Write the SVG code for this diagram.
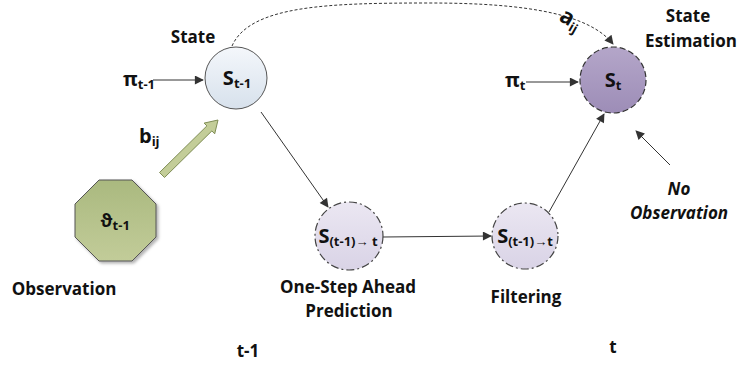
<svg xmlns="http://www.w3.org/2000/svg" width="738" height="366" viewBox="0 0 738 366">
  <style>
    text { font-family: "Open Sans", "Liberation Sans", sans-serif; font-weight: bold; fill: #111; }
    .lbl { font-size: 17px; }
    .sym { font-size: 20px; }
    .sub { font-size: 13px; }
    .conn { stroke: #333; stroke-width: 1; fill: none; }
  </style>
  <defs>
    <marker id="arr" viewBox="0 0 10 10" refX="9" refY="5" markerWidth="12" markerHeight="9" orient="auto" markerUnits="userSpaceOnUse">
      <path d="M0,0 L10,5 L0,10 z" fill="#333"/>
    </marker>
    <linearGradient id="gState" x1="0" y1="0" x2="0" y2="1">
      <stop offset="0" stop-color="#f4f7fb"/>
      <stop offset="1" stop-color="#d7e1ec"/>
    </linearGradient>
    <linearGradient id="gEst" x1="0" y1="0" x2="0" y2="1">
      <stop offset="0" stop-color="#b4a6c9"/>
      <stop offset="1" stop-color="#9d8db7"/>
    </linearGradient>
    <linearGradient id="gPred" x1="0" y1="0" x2="0" y2="1">
      <stop offset="0" stop-color="#ebe7f2"/>
      <stop offset="1" stop-color="#d9d3e6"/>
    </linearGradient>
    <linearGradient id="gObs" x1="0" y1="0" x2="0" y2="1">
      <stop offset="0" stop-color="#aab97f"/>
      <stop offset="1" stop-color="#c2cc99"/>
    </linearGradient>
    <filter id="shadow" x="-20%" y="-20%" width="150%" height="150%">
      <feDropShadow dx="2" dy="2" stdDeviation="1.5" flood-color="#000" flood-opacity="0.3"/>
    </filter>
  </defs>

  <g id="connectors">
    <path class="conn" d="M232,46 C250,5 330,3 430,3 C530,3 590,15 613,44" stroke-dasharray="3,2" marker-end="url(#arr)"/>
    <line class="conn" x1="153" y1="80" x2="203" y2="80" marker-end="url(#arr)"/>
    <line class="conn" x1="526" y1="82" x2="578" y2="82" marker-end="url(#arr)"/>
    <line class="conn" x1="261" y1="112" x2="328" y2="207" marker-end="url(#arr)"/>
    <line class="conn" x1="383" y1="237" x2="491" y2="236" marker-end="url(#arr)"/>
    <line class="conn" x1="549" y1="212" x2="604" y2="114" marker-end="url(#arr)"/>
    <line class="conn" x1="670" y1="165" x2="636" y2="131" marker-end="url(#arr)"/>
    <!-- observation emission arrow -->
    <path d="M159.5,172.5 L206.9,125.9 L204.1,123.1 L218,120 L214.7,133.8 L211.9,130.9 L164.5,177.5 Z" fill="#c3cd98" stroke="#7f8d55" stroke-width="1"/>
  </g>

  <g id="state-prev">
    <circle cx="236" cy="78" r="31" fill="url(#gState)" stroke="#555" stroke-width="1"/>
    <text x="237" y="85" text-anchor="middle"><tspan class="sym">S</tspan><tspan class="sub" dy="3">t-1</tspan></text>
    <text class="lbl" x="193" y="43" text-anchor="middle">State</text>
  </g>

  <g id="pi-prev">
    <text x="123" y="86"><tspan class="sym">π</tspan><tspan class="sub" dy="3">t-1</tspan></text>
  </g>

  <g id="observation">
    <polygon points="99,180 132,180 156,204 156,237 132,261 99,261 75,237 75,204" fill="url(#gObs)" stroke="#555" stroke-width="1" filter="url(#shadow)"/>
    <text x="115" y="227" text-anchor="middle"><tspan font-size="17px">ϑ</tspan><tspan class="sub" dy="3">t-1</tspan></text>
    <text class="lbl" x="64" y="295" text-anchor="middle">Observation</text>
    <text x="139" y="143"><tspan class="sym">b</tspan><tspan class="sub" dy="3">ij</tspan></text>
  </g>

  <g id="prediction">
    <circle cx="349" cy="236" r="34" fill="url(#gPred)" stroke="#444" stroke-width="1.2" stroke-dasharray="8,3,2,3"/>
    <text x="348" y="243" text-anchor="middle"><tspan class="sym">S</tspan><tspan class="sub" dy="3">(t-1)→ t</tspan></text>
    <text class="lbl" x="348" y="293" text-anchor="middle">One-Step Ahead</text>
    <text class="lbl" x="349" y="317" text-anchor="middle">Prediction</text>
  </g>

  <g id="filtering">
    <circle cx="525" cy="236" r="33" fill="url(#gPred)" stroke="#444" stroke-width="1.2" stroke-dasharray="8,3,2,3"/>
    <text x="525" y="243" text-anchor="middle"><tspan class="sym">S</tspan><tspan class="sub" dy="3">(t-1)→t</tspan></text>
    <text class="lbl" x="526" y="303" text-anchor="middle">Filtering</text>
  </g>

  <g id="state-est">
    <circle cx="613" cy="80" r="33" fill="url(#gEst)" stroke="#333" stroke-width="1.2" stroke-dasharray="6,3"/>
    <text x="613" y="87" text-anchor="middle"><tspan class="sym">S</tspan><tspan class="sub" dy="3">t</tspan></text>
    <text class="lbl" x="688" y="22" text-anchor="middle">State</text>
    <text class="lbl" x="691" y="47" text-anchor="middle">Estimation</text>
    <text x="505" y="87"><tspan class="sym">π</tspan><tspan class="sub" dy="3">t</tspan></text>
    <text transform="translate(558,20) rotate(30)"><tspan font-size="22px">a</tspan><tspan class="sub" dy="4">ij</tspan></text>
  </g>

  <g id="no-observation">
    <text class="lbl" x="679" y="195" text-anchor="middle" font-style="italic">No</text>
    <text class="lbl" x="679" y="219" text-anchor="middle" font-style="italic">Observation</text>
  </g>

  <g id="time-labels">
    <text class="lbl" x="248" y="357" text-anchor="middle">t-1</text>
    <text class="lbl" x="613" y="353" text-anchor="middle">t</text>
  </g>
</svg>
